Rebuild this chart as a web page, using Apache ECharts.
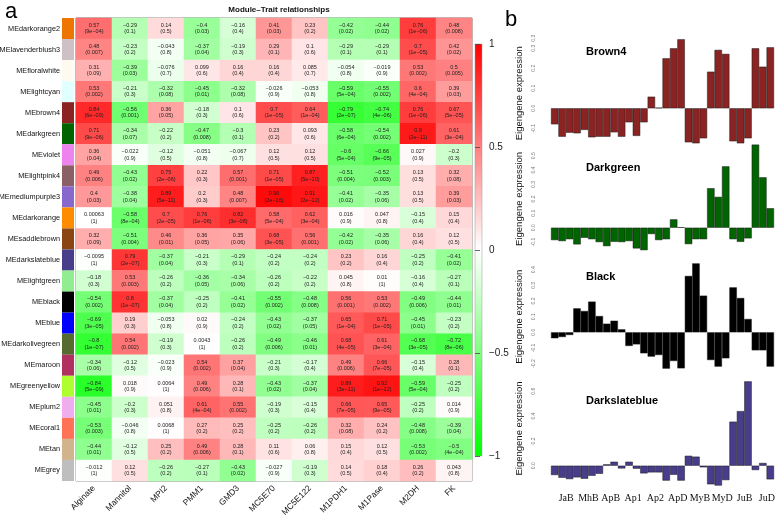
<!DOCTYPE html>
<html><head><meta charset="utf-8">
<script src="https://cdn.jsdelivr.net/npm/echarts@6/dist/echarts.min.js"></script>
<style>html,body{margin:0;padding:0;background:#fff}#c{width:777px;height:518px}</style>
</head><body><div id="c"></div>
<script>
const modules = ['MEdarkorange2','MElavenderblush3','MEfloralwhite','MElightcyan','MEbrown4','MEdarkgreen','MEviolet','MElightpink4','MEmediumpurple3','MEdarkorange','MEsaddlebrown','MEdarkslateblue','MElightgreen','MEblack','MEblue','MEdarkolivegreen','MEmaroon','MEgreenyellow','MEplum2','MEcoral1','MEtan','MEgrey'];
const moduleColors = ['#EE7600','#CDC1C5','#FFFAF0','#E0FFFF','#8B2323','#006400','#EE82EE','#8B5F65','#8968CD','#FF8C00','#8B4513','#483D8B','#90EE90','#000000','#0000FF','#556B2F','#B03060','#ADFF2F','#EEAEEE','#FF7256','#D2B48C','#BEBEBE'];
const traits = ['Alginate','Mannitol','MPI2','PMM1','GMD3','MC5E70','MC5E122','M1PDH1','M1Pase','M2DH','FK'];
const corValues = [
 [0.57,-0.29,0.14,-0.4,-0.16,0.41,0.23,-0.42,-0.44,0.76,0.48],
 [0.48,-0.23,-0.043,-0.37,-0.19,0.29,0.1,-0.29,-0.29,0.7,0.42],
 [0.31,-0.39,-0.076,0.099,0.16,0.16,0.085,-0.054,-0.019,0.53,0.5],
 [0.53,-0.21,-0.32,-0.45,-0.32,-0.026,-0.053,-0.59,-0.55,0.6,0.39],
 [0.84,-0.56,0.36,-0.18,0.1,0.7,0.64,-0.79,-0.74,0.76,0.67],
 [0.71,-0.34,-0.22,-0.47,-0.3,0.23,0.093,-0.58,-0.54,0.9,0.61],
 [0.36,-0.022,-0.12,-0.051,-0.067,0.12,0.12,-0.6,-0.66,0.027,-0.2],
 [0.49,-0.43,0.75,0.22,0.57,0.71,0.87,-0.51,-0.52,0.13,0.32],
 [0.4,-0.38,0.89,0.2,0.48,0.96,0.91,-0.41,-0.35,0.13,0.39],
 [0.00063,-0.58,0.7,0.76,0.82,0.58,0.62,0.016,0.047,-0.15,0.15],
 [0.32,-0.51,0.46,0.36,0.35,0.68,0.56,-0.42,-0.35,0.16,0.12],
 [-0.0095,0.79,-0.37,-0.21,-0.29,-0.24,-0.24,0.23,0.16,-0.25,-0.41],
 [-0.18,0.53,-0.26,-0.36,-0.34,-0.26,-0.22,0.045,0.01,-0.16,-0.27],
 [-0.54,0.8,-0.37,-0.25,-0.41,-0.55,-0.48,0.56,0.53,-0.49,-0.44],
 [-0.69,0.19,-0.053,0.02,-0.24,-0.43,-0.37,0.65,0.71,-0.45,-0.23],
 [-0.8,0.54,-0.19,0.0043,-0.26,-0.49,-0.46,0.68,0.61,-0.68,-0.72],
 [-0.34,-0.12,-0.023,0.54,0.37,-0.21,-0.17,0.49,0.66,-0.15,0.28],
 [-0.84,0.018,0.0064,0.49,0.28,-0.43,-0.37,0.89,0.92,-0.59,-0.25],
 [-0.45,-0.2,0.051,0.61,0.55,-0.19,-0.15,0.66,0.65,-0.25,0.014],
 [-0.53,-0.046,0.0068,0.27,0.25,-0.25,-0.26,0.32,0.24,-0.48,-0.39],
 [-0.44,-0.12,0.25,0.49,0.28,0.11,0.06,0.15,0.12,-0.53,-0.5],
 [-0.012,0.12,-0.26,-0.27,-0.43,-0.027,-0.19,0.14,0.18,0.26,0.043]
];
const pValues = [
 ['9e-04','0.1','0.5','0.03','0.4','0.03','0.2','0.02','0.02','1e-06','0.008'],
 ['0.007','0.2','0.8','0.04','0.3','0.1','0.6','0.1','0.1','1e-05','0.02'],
 ['0.09','0.03','0.7','0.6','0.4','0.4','0.7','0.8','0.9','0.002','0.005'],
 ['0.002','0.3','0.08','0.01','0.08','0.9','0.8','5e-04','0.002','4e-04','0.03'],
 ['6e-09','0.001','0.05','0.3','0.6','1e-05','1e-04','2e-07','4e-06','1e-06','5e-05'],
 ['9e-06','0.07','0.2','0.008','0.1','0.2','0.6','6e-04','0.002','2e-11','3e-04'],
 ['0.04','0.9','0.5','0.8','0.7','0.5','0.5','5e-04','9e-05','0.9','0.3'],
 ['0.006','0.02','2e-06','0.3','0.001','1e-05','5e-10','0.004','0.003','0.5','0.08'],
 ['0.03','0.04','5e-11','0.3','0.007','2e-16','2e-12','0.02','0.06','0.5','0.03'],
 ['1','8e-04','2e-05','1e-06','3e-08','5e-04','3e-04','0.9','0.8','0.4','0.4'],
 ['0.09','0.004','0.01','0.05','0.06','3e-05','0.001','0.02','0.06','0.4','0.5'],
 ['1','2e-07','0.04','0.3','0.1','0.2','0.2','0.2','0.4','0.2','0.02'],
 ['0.3','0.003','0.2','0.05','0.06','0.2','0.2','0.8','1','0.4','0.1'],
 ['0.002','1e-07','0.04','0.2','0.02','0.002','0.008','0.001','0.002','0.006','0.01'],
 ['3e-05','0.3','0.8','0.9','0.2','0.02','0.05','1e-04','1e-05','0.01','0.2'],
 ['1e-07','0.002','0.3','1','0.2','0.006','0.01','4e-05','3e-04','3e-05','8e-06'],
 ['0.06','0.5','0.9','0.002','0.04','0.3','0.4','0.006','7e-05','0.4','0.1'],
 ['5e-09','0.9','1','0.006','0.1','0.02','0.04','3e-11','1e-12','5e-04','0.2'],
 ['0.01','0.3','0.8','4e-04','0.002','0.3','0.4','7e-05','9e-05','0.2','0.9'],
 ['0.003','0.8','1','0.2','0.2','0.2','0.2','0.08','0.2','0.008','0.04'],
 ['0.01','0.5','0.2','0.006','0.1','0.6','0.8','0.4','0.5','0.002','4e-04'],
 ['1','0.5','0.2','0.1','0.02','0.9','0.3','0.5','0.4','0.2','0.8']
];
const legendTicks = ['1','0.5','0','−0.5','−1'];
const sampleGroups = ['JaB','MhB','ApB','Ap1','Ap2','ApD','MyB','MyD','JuB','JuD'];
const brown4 = [-0.08,-0.142,-0.122,-0.125,-0.108,-0.145,-0.142,-0.142,-0.12,-0.142,-0.07,-0.138,-0.07,0.058,0.003,0.25,0.30,0.345,-0.17,-0.175,-0.15,0.183,0.292,0.272,-0.165,-0.175,-0.15,0.30,0.208,0.305];
const darkgreen = [-0.086,-0.093,-0.08,-0.116,-0.07,-0.08,-0.10,-0.128,-0.098,-0.10,-0.093,-0.144,-0.156,-0.044,-0.086,-0.08,0.058,0.003,-0.114,-0.08,-0.08,0.274,0.214,0.426,-0.08,-0.098,-0.074,0.577,0.35,0.135];
const black = [-0.038,-0.03,-0.017,0.153,0.136,0.196,0.104,0.055,0.074,0.019,-0.087,-0.077,-0.134,-0.155,-0.145,-0.232,-0.183,-0.23,0.36,0.44,0.234,-0.177,-0.219,-0.166,0.287,0.219,0.085,-0.115,-0.115,-0.219];
const darkslateblue = [-0.075,-0.097,-0.108,-0.094,-0.105,-0.081,-0.065,0.011,0.032,-0.022,0.032,-0.024,-0.062,-0.054,-0.054,-0.12,-0.073,-0.12,0.08,0.073,-0.013,-0.15,-0.16,-0.116,0.355,0.44,0.68,-0.035,0.022,-0.11];
const brown4Ticks = ['-0.1','0.0','0.1','0.2','0.3'];
const darkgreenTicks = ['-0.1','0.0','0.1','0.2','0.3','0.4','0.5'];
const blackTicks = ['-0.2','-0.1','0.0','0.1','0.2','0.3','0.4'];
const dsbTicks = ['0.0','0.2','0.4','0.6'];

const FONT = 'Liberation Sans, Arial, Helvetica, sans-serif';
const minus = s => String(s).replace(/-/g, '−');
const sampleCats = [];
sampleGroups.forEach(g => { for (let k = 0; k < 3; k++) sampleCats.push(g + '_' + (k + 1)); });

const heatData = [];
corValues.forEach((row, r) => row.forEach((v, c) => heatData.push([c, r, v])));

const chart = echarts.init(document.getElementById('c'), null, {renderer: 'canvas'});

const barGradient = new echarts.graphic.LinearGradient(0, 0, 0, 1, [
  {offset: 0, color: '#FF0000'}, {offset: 0.5, color: '#FFFFFF'}, {offset: 1, color: '#00FF00'}
]);

const G = {containLabel: false, outerBoundsMode: 'none'};
const grids = [
  Object.assign({left: 76, top: 18, width: 396, height: 463, show: true, borderColor: '#555', borderWidth: 0.8}, G),
  Object.assign({left: 62, top: 18, width: 12, height: 463}, G),
  Object.assign({left: 475, top: 44, width: 7, height: 412, show: true, backgroundColor: barGradient, borderColor: '#999', borderWidth: 0.5}, G),
  Object.assign({left: 551, width: 223, top: 38.3, height: 110}, G),
  Object.assign({left: 551, width: 223, top: 141.3, height: 115.2}, G),
  Object.assign({left: 551, width: 223, top: 254, height: 125.3}, G),
  Object.assign({left: 551, width: 223, top: 366.5, height: 124}, G)
];

const barDefs = [
  {data: brown4, color: '#8B2323', min: -0.2, max: 0.35, interval: 0.1, ticks: brown4Ticks, name: 'Brown4', grid: 3},
  {data: darkgreen, color: '#006400', min: -0.2, max: 0.6, interval: 0.1, ticks: darkgreenTicks, name: 'Darkgreen', grid: 4},
  {data: black, color: '#000000', min: -0.3, max: 0.5, interval: 0.1, ticks: blackTicks, name: 'Black', grid: 5},
  {data: darkslateblue, color: '#483D8B', min: -0.2, max: 0.8, interval: 0.2, ticks: dsbTicks, name: 'Darkslateblue', grid: 6}
];

const xAxes = [
  {gridIndex: 0, type: 'category', data: traits, axisLine: {show: false}, axisTick: {show: false}, splitLine: {show: false},
   axisLabel: {rotate: 45, interval: 0, fontSize: 8.5, margin: 6, color: '#111', fontFamily: FONT}},
  {gridIndex: 1, type: 'value', min: 0, max: 1, show: false},
  {gridIndex: 2, type: 'value', min: 0, max: 1, show: false}
];
const yAxes = [
  {gridIndex: 0, type: 'category', data: modules, inverse: true, axisLine: {show: false}, axisTick: {show: false}, splitLine: {show: false},
   axisLabel: {fontSize: 7.3, margin: 16, color: '#111', fontFamily: FONT}},
  {gridIndex: 1, type: 'category', data: modules, inverse: true, show: false},
  {gridIndex: 2, type: 'value', min: -1, max: 1, interval: 0.5, position: 'right', axisLine: {show: false},
   axisTick: {show: true, length: 5, lineStyle: {color: '#444', width: 0.8}}, splitLine: {show: false},
   axisLabel: {margin: 7, fontSize: 10, color: '#222', fontFamily: FONT,
     formatter: v => legendTicks[Math.round((1 - v) / 0.5)]}}
];

const series = [
  {type: 'heatmap', xAxisIndex: 0, yAxisIndex: 0, data: heatData,
   label: {show: true, fontSize: 5.5, lineHeight: 6.5, color: '#222', fontFamily: FONT,
     formatter: p => minus(corValues[p.data[1]][p.data[0]]) + '\n(' + minus(pValues[p.data[1]][p.data[0]]) + ')'},
   itemStyle: {borderWidth: 0}, emphasis: {disabled: true}},
  {type: 'bar', xAxisIndex: 1, yAxisIndex: 1, barWidth: '100%', silent: true, z: 1,
   data: moduleColors.map(c => ({value: 1, itemStyle: {color: c}}))},
  {type: 'line', xAxisIndex: 2, yAxisIndex: 2, data: [], silent: true}
];

const titles = [
  {text: 'Module–Trait relationships', left: 274, top: 1, textAlign: 'center',
   textStyle: {fontSize: 8, fontWeight: 'bold', color: '#111', fontFamily: FONT}},
  {text: 'a', left: 0, top: -4, textStyle: {fontSize: 22, fontWeight: 'normal', color: '#000', fontFamily: FONT}},
  {text: 'b', left: 500, top: 4, textStyle: {fontSize: 22, fontWeight: 'normal', color: '#000', fontFamily: FONT}}
];
const titleTops = [41, 157, 266, 390];

barDefs.forEach((d, i) => {
  const xi = xAxes.length, yi = yAxes.length;
  const last = i === barDefs.length - 1;
  xAxes.push({gridIndex: d.grid, type: 'category', data: sampleCats, axisLine: {show: false}, axisTick: {show: false},
    axisLabel: last ? {show: true, interval: idx => idx % 3 === 1, formatter: v => v.split('_')[0],
      fontFamily: 'Liberation Serif, Times New Roman, serif', fontSize: 10, color: '#111', margin: 3, padding: [0, 0, 0, 8]} : {show: false}});
  yAxes.push({gridIndex: d.grid, type: 'value', min: d.min, max: d.max, interval: d.interval,
    axisLine: {show: false}, axisTick: {show: false}, splitLine: {show: false},
    axisLabel: {rotate: 90, fontSize: 5, color: '#777', margin: 15, fontFamily: FONT,
      formatter: v => { const s = v.toFixed(1); return d.ticks.indexOf(s) >= 0 ? s : ''; }},
    name: 'Eigengene expression', nameLocation: 'middle', nameGap: 27,
    nameTextStyle: {fontSize: 9.5, color: '#111', fontFamily: FONT}});
  series.push({type: 'bar', xAxisIndex: xi, yAxisIndex: yi, data: d.data, barWidth: '100%', barCategoryGap: 0,
    itemStyle: {color: d.color, borderColor: '#1a1a1a', borderWidth: 0.5}, silent: true});
  titles.push({text: d.name, left: 581, top: titleTops[i], textStyle: {fontSize: 11, fontWeight: 'bold', color: '#000', fontFamily: FONT}});
});

chart.setOption({
  backgroundColor: '#fff',
  animation: false,
  title: titles,
  grid: grids,
  xAxis: xAxes,
  yAxis: yAxes,
  visualMap: {type: 'continuous', seriesIndex: 0, min: -1, max: 1, show: false,
    inRange: {color: ['#00FF00', '#FFFFFF', '#FF0000']}},
  series: series
});
</script></body></html>
